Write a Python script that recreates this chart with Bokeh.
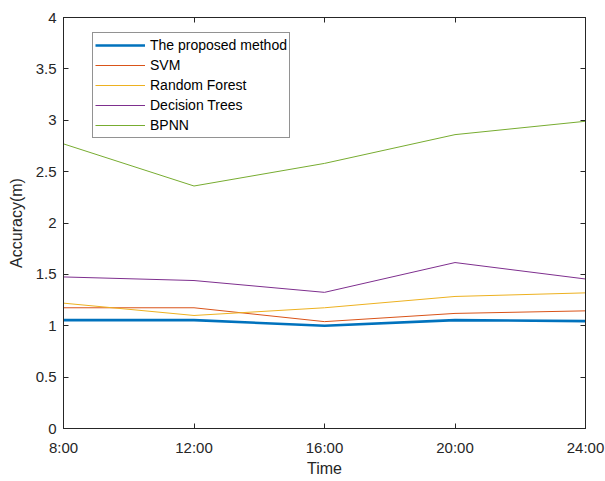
from bokeh.plotting import figure
from bokeh.models import (Legend, LegendItem, LinearAxis, FixedTicker, Range1d,
                          CustomJSTickFormatter)
from bokeh.embed import file_html
from bokeh.resources import INLINE

# ---- data ----
hours = [8, 12, 16, 20, 24]
time_labels = ["8:00", "12:00", "16:00", "20:00", "24:00"]
proposed = [1.055, 1.055, 1.0, 1.055, 1.045]
svm = [1.175, 1.175, 1.04, 1.12, 1.145]
random_forest = [1.22, 1.10, 1.175, 1.285, 1.32]
decision_trees = [1.475, 1.44, 1.325, 1.615, 1.455]
bpnn = [2.77, 2.36, 2.58, 2.86, 2.99]
y_ticks = [0, 0.5, 1, 1.5, 2, 2.5, 3, 3.5, 4]

series = [
    ("The proposed method", proposed, "#0072BD", 2.6),
    ("SVM", svm, "#D95319", 1.0),
    ("Random Forest", random_forest, "#EDB120", 1.0),
    ("Decision Trees", decision_trees, "#7E2F8E", 1.0),
    ("BPNN", bpnn, "#77AC30", 1.0),
]

FONT = "Liberation Sans"
AX = "#262626"

p = figure(width=605, height=481, output_backend="svg", toolbar_location=None,
           x_range=Range1d(8, 24), y_range=Range1d(0, 4),
           min_border_left=63, min_border_right=20, min_border_top=17,
           min_border_bottom=53)
p.xgrid.visible = False
p.ygrid.visible = False
p.outline_line_color = AX
p.outline_line_width = 1
p.background_fill_color = "white"
p.border_fill_color = "white"

items = []
for name, vals, color, lw in series:
    r = p.line(hours, vals, line_color=color, line_width=lw)
    items.append(LegendItem(label=name, renderers=[r]))

xticker = FixedTicker(ticks=hours)
yticker = FixedTicker(ticks=y_ticks)
x_overrides = {h: t for h, t in zip(hours, time_labels)}
yfmt = CustomJSTickFormatter(code="return tick.toString();")


def style_axis(ax):
    ax.axis_line_color = AX
    ax.major_tick_line_color = AX
    ax.major_tick_in = 5
    ax.major_tick_out = 0
    ax.minor_tick_line_color = None
    ax.major_label_text_color = AX
    ax.major_label_text_font = FONT
    ax.major_label_text_font_size = "15px"
    ax.axis_label_text_font = FONT
    ax.axis_label_text_font_size = "16px"
    ax.axis_label_text_font_style = "normal"
    ax.axis_label_text_color = AX


xa = p.xaxis[0]
xa.ticker = xticker
xa.major_label_overrides = x_overrides
xa.axis_label = "Time"
xa.major_label_standoff = 10
xa.axis_label_standoff = 1
style_axis(xa)

ya = p.yaxis[0]
ya.ticker = yticker
ya.formatter = yfmt
ya.axis_label = "Accuracy(m)"
ya.major_label_standoff = 7
ya.axis_label_standoff = 8
style_axis(ya)

top = LinearAxis(ticker=xticker)
style_axis(top)
top.major_label_text_font_size = "0px"
top.major_label_text_color = None
p.add_layout(top, "above")

right = LinearAxis(ticker=yticker)
style_axis(right)
right.major_label_text_font_size = "0px"
right.major_label_text_color = None
p.add_layout(right, "right")

legend = Legend(items=items, location=(29, 290))
legend.label_text_font = FONT
legend.label_text_font_size = "14px"
legend.label_text_color = "black"
legend.glyph_width = 50
legend.glyph_height = 20
legend.label_height = 20
legend.label_standoff = 5
legend.spacing = 0
legend.padding = 2
legend.margin = 0
legend.border_line_color = AX
legend.border_line_width = 1
legend.background_fill_alpha = 1
p.add_layout(legend, "center")

open("out.html", "w").write(file_html(p, INLINE))
